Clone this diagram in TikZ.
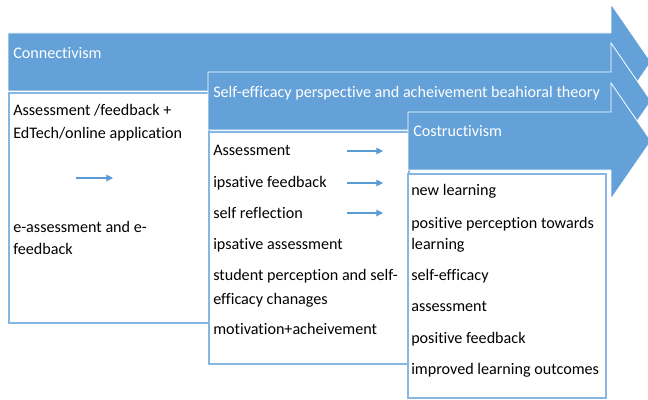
\documentclass[tikz,border=0pt]{standalone}
\usepackage{fontspec}
\setmainfont{Carlito}[Ligatures=NoCommon]
\usetikzlibrary{arrows.meta, calc}
\definecolor{bandblue}{RGB}{100,161,216}
\definecolor{boxline}{RGB}{135,182,227}
\definecolor{tipblue}{RGB}{91,155,213}

\begin{document}
\begin{tikzpicture}[x=0.75pt, y=-0.75pt, >={Triangle[length=5pt, width=5pt]},
  every node/.style={font=\fontsize{12.1}{14}\selectfont, inner sep=0pt},
  band/.style={fill=bandblue, draw=white, line width=0.6pt},
  panel/.style={draw=boxline, line width=1.3pt, fill=white, anchor=north west},
  head/.style={anchor=base west, text=white},
  item/.style={anchor=base west},
  flow/.style={->, draw=tipblue, fill=tipblue, line width=0.8pt}]
  \useasboundingbox (0,0) rectangle (648,399);
  \clip (0,0) rectangle (648,399);

  % theory bands, back to front, each with its column below
  \draw[band] (8,33) -- (611,33) -- (611,4) -- (651,62) -- (611,120) -- (611,91) -- (8,91) -- cycle;
  \node[head] (conn) at (13,58.5) {Connectivism};
  \node[panel, minimum width=150pt, minimum height=172.5pt] (colA) at (8,92) {};

  \draw[band] (208,72) -- (611,72) -- (611,43) -- (651,101) -- (611,159) -- (611,130) -- (208,130) -- cycle;
  \node[head] (self) at (213,98) {Self-efficacy perspective and acheivement beahioral theory};
  \node[panel, minimum width=150pt, minimum height=174pt] (colB) at (208,131) {};

  \draw[band] (408,112) -- (611,112) -- (611,83) -- (651,141) -- (611,199) -- (611,170) -- (408,170) -- cycle;
  \node[head] (cons) at (413,137) {Costructivism};
  \node[panel, minimum width=148.5pt, minimum height=168pt] (colC) at (407,173) {};

  % first column
  \node[item] (a1) at (13,116) {Assessment /feedback +};
  \node[item] (a2) at (13,138) {EdTech/online application};
  \node[item] (a3) at (13,232) {e-assessment and e-};
  \node[item] (a4) at (13,254) {feedback};
  \coordinate (ta) at (76,178);
  \coordinate (ha) at (113,178);
  \draw[flow] (ta) -- (ha);

  % second column
  \node[item] (b1) at (213,155) {Assessment};
  \node[item] (b2) at (213,187) {ipsative feedback};
  \node[item] (b3) at (213,218) {self reflection};
  \node[item] (b4) at (213,249) {ipsative assessment};
  \node[item] (b5) at (213,280) {student perception and self-};
  \node[item] (b6) at (213,304) {efficacy chanages};
  \node[item] (b7) at (213,334) {motivation+acheivement};
  \coordinate (tb1) at (347,151);
  \coordinate (hb1) at (383,151);
  \coordinate (tb2) at (347,183);
  \coordinate (hb2) at (383,183);
  \coordinate (tb3) at (347,213);
  \coordinate (hb3) at (383,213);
  \draw[flow] (tb1) -- (hb1);
  \draw[flow] (tb2) -- (hb2);
  \draw[flow] (tb3) -- (hb3);

  % third column
  \node[item] (c1) at (411,195) {new learning};
  \node[item] (c2) at (411,228) {positive perception towards};
  \node[item] (c3) at (411,249) {learning};
  \node[item] (c4) at (411,280) {self-efficacy};
  \node[item] (c5) at (411,311) {assessment};
  \node[item] (c6) at (411,343) {positive feedback};
  \node[item] (c7) at (411,374) {improved learning outcomes};
\end{tikzpicture}
\end{document}
